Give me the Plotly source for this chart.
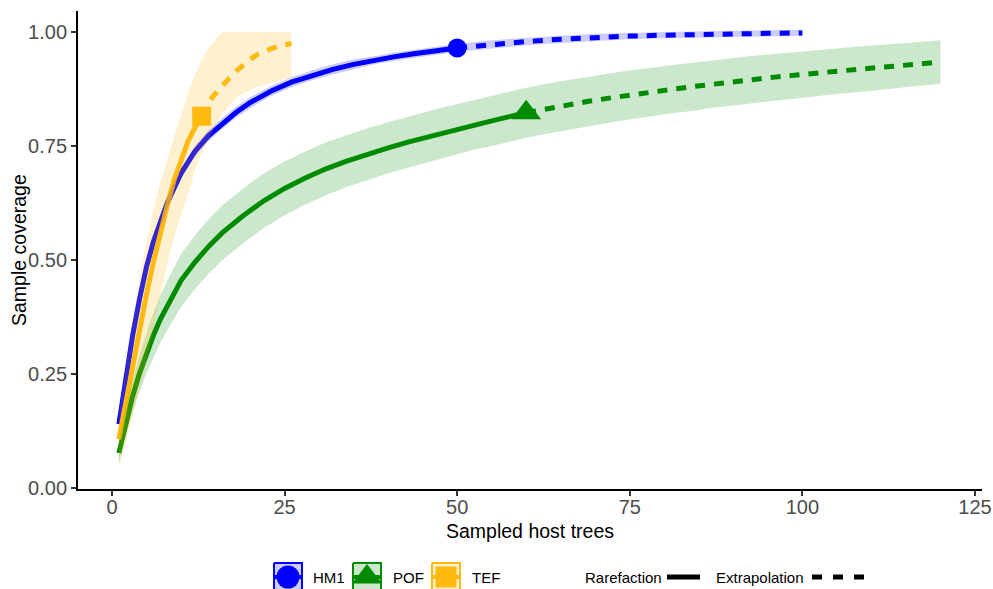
import plotly.graph_objects as go

# ---------------- data ----------------
groups = ["HM1", "POF", "TEF"]
colors = {"HM1": "#0000FF", "POF": "#008B00", "TEF": "#FFB90F"}
fills = {"HM1": "rgba(0,0,255,0.2)", "POF": "rgba(0,139,0,0.2)", "TEF": "rgba(255,185,15,0.2)"}
symbols = {"HM1": "circle", "POF": "triangle-up", "TEF": "square"}

# HM1
hm1_rare_x = [1, 2, 3, 4, 5, 6, 7, 8, 10, 12, 14, 16, 18, 20, 23, 26, 29, 32, 35, 38, 41, 44, 47, 50]
hm1_rare_y = [0.140, 0.245, 0.335, 0.415, 0.485, 0.540, 0.585, 0.625, 0.690, 0.738, 0.773, 0.800,
              0.824, 0.845, 0.870, 0.890, 0.905, 0.918, 0.929, 0.938, 0.946, 0.953, 0.959, 0.965]
hm1_rare_lwr = [0.136, 0.239, 0.327, 0.406, 0.475, 0.528, 0.573, 0.613, 0.678, 0.726, 0.761, 0.788,
                0.812, 0.833, 0.859, 0.879, 0.894, 0.907, 0.918, 0.929, 0.937, 0.944, 0.950, 0.956]
hm1_rare_upr = [0.144, 0.251, 0.343, 0.424, 0.495, 0.552, 0.597, 0.637, 0.702, 0.750, 0.785, 0.812,
                0.836, 0.857, 0.881, 0.901, 0.916, 0.929, 0.940, 0.947, 0.955, 0.962, 0.968, 0.974]
hm1_ext_x = [50, 55, 60, 65, 70, 75, 80, 85, 90, 95, 100]
hm1_ext_y = [0.965, 0.973, 0.979, 0.984, 0.988, 0.991, 0.993, 0.995, 0.996, 0.997, 0.998]
hm1_ext_lwr = [0.956, 0.964, 0.971, 0.976, 0.980, 0.984, 0.986, 0.988, 0.989, 0.990, 0.991]
hm1_ext_upr = [0.974, 0.982, 0.987, 0.992, 0.996, 0.998, 1.000, 1.002, 1.003, 1.004, 1.005]

# POF
pof_rare_x = [1, 2, 3, 4, 5, 6, 7, 8, 10, 12, 14, 16, 19, 22, 25, 28, 31, 34, 37, 40, 43, 46, 49,
              52, 55, 58, 60]
pof_rare_y = [0.077, 0.145, 0.202, 0.252, 0.296, 0.335, 0.370, 0.400, 0.455, 0.495, 0.530, 0.560,
              0.597, 0.630, 0.657, 0.680, 0.700, 0.717, 0.732, 0.746, 0.759, 0.771, 0.783,
              0.795, 0.805, 0.816, 0.823]
pof_rare_lwr = [0.052, 0.115, 0.167, 0.212, 0.251, 0.286, 0.318, 0.346, 0.397, 0.436, 0.470, 0.500,
                0.537, 0.570, 0.598, 0.622, 0.642, 0.660, 0.675, 0.690, 0.703, 0.715, 0.728,
                0.740, 0.750, 0.761, 0.768]
pof_rare_upr = [0.102, 0.175, 0.237, 0.292, 0.341, 0.384, 0.422, 0.454, 0.513, 0.554, 0.590, 0.620,
                0.657, 0.690, 0.716, 0.738, 0.758, 0.774, 0.789, 0.802, 0.815, 0.827, 0.838,
                0.850, 0.860, 0.871, 0.878]
pof_ext_x = [60, 63, 66, 69, 72, 75, 78, 81, 84, 87, 90, 93, 96, 99, 102, 105, 108, 111, 114, 117, 120]
pof_ext_y = [0.823, 0.832, 0.840, 0.848, 0.855, 0.862, 0.868, 0.874, 0.880, 0.886, 0.891, 0.896,
             0.901, 0.906, 0.910, 0.914, 0.918, 0.922, 0.926, 0.930, 0.934]
pof_ext_lwr = [0.768, 0.777, 0.785, 0.794, 0.801, 0.808, 0.815, 0.821, 0.827, 0.834, 0.839, 0.844,
               0.850, 0.855, 0.860, 0.864, 0.868, 0.873, 0.877, 0.882, 0.886]
pof_ext_upr = [0.878, 0.887, 0.895, 0.902, 0.909, 0.916, 0.921, 0.927, 0.933, 0.938, 0.943, 0.948,
               0.952, 0.957, 0.960, 0.964, 0.968, 0.971, 0.975, 0.978, 0.982]

# TEF
tef_rare_x = [1, 2, 3, 4, 5, 6, 7, 8, 9, 10, 11, 12, 13]
tef_rare_y = [0.107, 0.190, 0.270, 0.350, 0.425, 0.495, 0.560, 0.620, 0.675, 0.720, 0.760, 0.790, 0.815]
tef_rare_lwr = [0.050, 0.100, 0.160, 0.220, 0.280, 0.350, 0.420, 0.490, 0.550, 0.600, 0.650, 0.695, 0.735]
tef_rare_upr = [0.165, 0.270, 0.370, 0.460, 0.540, 0.610, 0.670, 0.720, 0.770, 0.820, 0.865, 0.905, 0.940]
tef_ext_x = [13, 14, 15, 16, 17, 18, 19, 20, 21, 22, 23, 24, 25, 26]
tef_ext_y = [0.815, 0.846, 0.865, 0.883, 0.899, 0.914, 0.928, 0.940, 0.950, 0.957, 0.963, 0.968, 0.972, 0.975]
tef_ext_lwr = [0.735, 0.765, 0.795, 0.820, 0.840, 0.855, 0.865, 0.873, 0.879, 0.884, 0.889, 0.893, 0.897, 0.900]
tef_ext_upr = [0.940, 0.965, 0.985, 1.000, 1.000, 1.000, 1.000, 1.000, 1.000, 1.000, 1.000, 1.000, 1.000, 1.000]

# reference (observed) sample points
ref_x = {"HM1": 50, "POF": 60, "TEF": 13}
ref_y = {"HM1": 0.965, "POF": 0.823, "TEF": 0.815}

series = {
    "HM1": (hm1_rare_x, hm1_rare_y, hm1_rare_lwr, hm1_rare_upr, hm1_ext_x, hm1_ext_y, hm1_ext_lwr, hm1_ext_upr),
    "POF": (pof_rare_x, pof_rare_y, pof_rare_lwr, pof_rare_upr, pof_ext_x, pof_ext_y, pof_ext_lwr, pof_ext_upr),
    "TEF": (tef_rare_x, tef_rare_y, tef_rare_lwr, tef_rare_upr, tef_ext_x, tef_ext_y, tef_ext_lwr, tef_ext_upr),
}

x_ticks = [0, 25, 50, 75, 100, 125]
y_ticks = [0.0, 0.25, 0.5, 0.75, 1.0]
y_tick_labels = ["0.00", "0.25", "0.50", "0.75", "1.00"]
x_title = "Sampled host trees"
y_title = "Sample coverage"

# ---------------- figure ----------------
W, H = 993, 589
fig = go.Figure()
LW = 5
DASH = "10px,9px"
marker_sizes = {"HM1": 19, "POF": 26, "TEF": 19}

# points (drawn first, as in ggiNEXT)
for g in groups:
    fig.add_trace(go.Scatter(x=[ref_x[g]], y=[ref_y[g]], mode="markers",
                             marker=dict(symbol=symbols[g], size=marker_sizes[g],
                                         color=colors[g], line=dict(width=0)),
                             showlegend=False, hoverinfo="skip"))
# lines
for g in groups:
    rx, ry, rl, ru, ex, ey, el, eu = series[g]
    fig.add_trace(go.Scatter(x=rx, y=ry, mode="lines", line=dict(color=colors[g], width=LW),
                             showlegend=False, hoverinfo="skip"))
    fig.add_trace(go.Scatter(x=ex, y=ey, mode="lines",
                             line=dict(color=colors[g], width=LW, dash=DASH),
                             showlegend=False, hoverinfo="skip"))
# ribbons (on top, translucent)
for g in groups:
    rx, ry, rl, ru, ex, ey, el, eu = series[g]
    xs = rx + ex[1:]
    lw = rl + el[1:]
    up = ru + eu[1:]
    fig.add_trace(go.Scatter(x=xs + xs[::-1], y=lw + up[::-1], mode="lines", fill="toself",
                             fillcolor=fills[g], line=dict(width=0), showlegend=False,
                             hoverinfo="skip"))

# main axes placement (pixel geometry)
left, right, top, bottom = 77.8, 981.5, 11, 489
fig.update_layout(
    width=W, height=H, margin=dict(l=0, r=0, t=0, b=0, autoexpand=False),
    paper_bgcolor="white", plot_bgcolor="rgba(0,0,0,0)",
    font=dict(family="Liberation Sans, Arial, sans-serif"),
    xaxis=dict(domain=[left / W, right / W], range=[-4.95, 125.95],
               showline=True, linecolor="black", linewidth=1.5,
               ticks="outside", ticklen=5, tickwidth=1.5, tickcolor="#333333",
               tickvals=x_ticks, tickfont=dict(size=20, color="#4D4D4D"),
               ticklabelstandoff=-6, showgrid=False, zeroline=False),
    yaxis=dict(domain=[1 - bottom / H, 1 - top / H], range=[-0.002, 1.046],
               showline=True, linecolor="black", linewidth=1.5,
               ticks="outside", ticklen=5, tickwidth=1.5, tickcolor="#333333",
               tickvals=y_ticks, ticktext=y_tick_labels, tickfont=dict(size=20, color="#4D4D4D"),
               showgrid=False, zeroline=False),
    xaxis2=dict(domain=[0, 1], range=[0, W], visible=False, anchor="y2"),
    yaxis2=dict(domain=[0, 1], range=[H, 0], visible=False, anchor="x2"),
)

annots = []
# axis titles
annots.append(dict(xref="x2", yref="y2", x=(left + right) / 2, y=531, text=x_title, showarrow=False,
                   xanchor="center", yanchor="middle", font=dict(size=19.5, color="black")))
annots.append(dict(xref="x2", yref="y2", x=19, y=(top + bottom) / 2, text=y_title, showarrow=False,
                   textangle=-90, xanchor="center", yanchor="middle",
                   font=dict(size=19.5, color="black")))

# ---------------- legend (drawn in a pixel overlay) ----------------
ly = 577
key_w, key_h = 28, 28
key_x = {"HM1": 274, "POF": 353, "TEF": 432}
lab_x = {"HM1": 311, "POF": 391, "TEF": 470}
legend_marker_sizes = {"HM1": 23, "POF": 26, "TEF": 21}
for g in groups:
    x0, x1 = key_x[g], key_x[g] + key_w
    y0, y1 = ly - key_h / 2, ly + key_h / 2
    fig.add_trace(go.Scatter(x=[x0, x1, x1, x0, x0], y=[y0, y0, y1, y1, y0], xaxis="x2", yaxis="y2",
                             mode="lines", fill="toself", fillcolor=fills[g],
                             line=dict(color=colors[g], width=2), showlegend=False,
                             hoverinfo="skip", cliponaxis=False))
    fig.add_trace(go.Scatter(x=[x0 + 1, x1 - 1], y=[ly, ly], xaxis="x2", yaxis="y2", mode="lines",
                             line=dict(color=colors[g], width=4), showlegend=False,
                             hoverinfo="skip"))
    fig.add_trace(go.Scatter(x=[(x0 + x1) / 2], y=[ly], xaxis="x2", yaxis="y2", mode="markers",
                             marker=dict(symbol=symbols[g], size=legend_marker_sizes[g],
                                         color=colors[g], line=dict(width=0)),
                             showlegend=False, hoverinfo="skip", cliponaxis=False))
    annots.append(dict(xref="x2", yref="y2", x=lab_x[g], y=ly, text=g, showarrow=False,
                       xanchor="left", yanchor="middle", font=dict(size=15, color="black")))
annots.append(dict(xref="x2", yref="y2", x=583, y=ly, text="Rarefaction", showarrow=False,
                   xanchor="left", yanchor="middle", font=dict(size=15, color="black")))
annots.append(dict(xref="x2", yref="y2", x=714, y=ly, text="Extrapolation", showarrow=False,
                   xanchor="left", yanchor="middle", font=dict(size=15, color="black")))
fig.add_trace(go.Scatter(x=[667, 700], y=[ly, ly], xaxis="x2", yaxis="y2", mode="lines",
                         line=dict(color="black", width=5), showlegend=False, hoverinfo="skip"))
fig.add_trace(go.Scatter(x=[812, 864], y=[ly, ly], xaxis="x2", yaxis="y2", mode="lines",
                         line=dict(color="black", width=5, dash="10px,11px"),
                         showlegend=False, hoverinfo="skip"))
fig.update_layout(annotations=annots, showlegend=False)

fig.write_html("out.html")
